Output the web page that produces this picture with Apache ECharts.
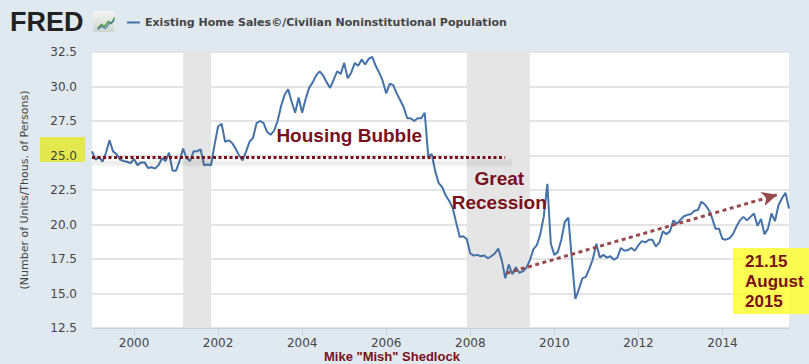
<!DOCTYPE html>
<html>
<head>
<meta charset="utf-8">
<script src="https://cdn.jsdelivr.net/npm/echarts@6/dist/echarts.min.js"></script>
<style>html,body{margin:0;padding:0;background:#E1E9F0;}#c{width:809px;height:364px;}</style>
</head>
<body>
<div id="c"></div>
<script>
// ---- data (monthly, Jan 1999 .. Aug 2015) ----
var startYear = 1999;
var seriesName = 'Existing Home Sales\u00a9/Civilian Noninstitutional Population';
var values = [
  25.3, 24.7, 24.9, 24.55, 25.2, 26.1, 25.3, 25.1, 24.7, 24.6, 24.55, 24.45,
  24.75, 24.3, 24.5, 24.5, 24.1, 24.15, 24.05, 24.3, 24.8, 24.6, 25.2, 23.9,
  23.9, 24.6, 25.5, 24.8, 24.6, 25.3, 25.3, 25.45, 24.3, 24.35, 24.3, 25.8,
  27.1, 27.3, 26.0, 26.1, 25.9, 25.5, 25.0, 24.65, 25.3, 26.0, 26.3, 27.35,
  27.5, 27.35, 26.7, 26.5, 26.8, 27.5, 28.6, 29.4, 29.8, 28.9, 28.1, 29.2,
  28.1, 29.1, 29.9, 30.3, 30.8, 31.1, 30.8, 30.3, 29.9, 30.5, 31.1, 30.9,
  31.7, 30.6, 31.0, 31.7, 31.5, 31.95, 31.6, 32.0, 32.15, 31.5, 31.0, 30.4,
  29.5, 30.2, 30.1, 29.5, 29.0, 28.5, 27.7, 27.7, 27.5, 27.7, 27.7, 28.1,
  24.95, 25.1, 23.85, 23.0, 22.7, 22.1, 21.7, 21.2, 20.1, 19.1, 19.15, 18.95,
  17.9, 17.75, 17.8, 17.7, 17.75, 17.55, 17.7, 17.9, 18.25, 17.4, 16.1, 17.1,
  16.4, 16.9, 16.5, 16.6, 16.85, 17.4, 18.2, 18.5, 19.3, 20.6, 22.95, 18.6,
  17.8, 18.0, 18.9, 20.2, 20.5, 17.5, 14.6, 15.3, 16.1, 16.2, 16.8, 17.5,
  18.6, 17.6, 17.8, 17.6, 17.7, 17.45, 17.6, 18.3, 18.1, 18.15, 18.3, 18.1,
  18.5, 18.8, 18.7, 18.9, 18.9, 18.4, 18.7, 19.5, 19.3, 19.5, 20.3, 20.05,
  20.35, 20.6, 20.7, 20.75, 21.0, 21.05, 21.65, 21.45, 21.1, 20.5, 19.7, 19.7,
  18.95, 18.9, 19.0, 19.3, 19.85, 20.3, 20.55, 20.3, 20.55, 20.8, 19.9, 20.4,
  19.3, 19.7, 20.8, 20.25, 21.4, 21.9, 22.3, 21.15
];
var xTickLabels = [2000, 2002, 2004, 2006, 2008, 2010, 2012, 2014];
var yMin = 12.5, yMax = 32.5, yStep = 2.5;
var recessions = [[2001 + 2/12, 2001 + 10/12], [2007 + 11/12, 2009 + 5/12]];
var bubbleLevel = [[1999.0, 24.85], [2008.83, 24.85]];
var bubbleShadow = [[1999.0, 24.5], [2009.0, 24.5]];
var trendArrow = [[2008.86, 16.47], [2015.3, 22.15]];
var bubbleLabel = {x: 2005.12, y: 26.45, text: 'Housing Bubble'};
var recessionLabel = {x: 2008.69, y: 22.45, text: 'Great\nRecession'};
var lastLabel = '21.15\nAugust\n2015';
var footer = 'Mike "Mish" Shedlock';

var points = values.map(function (v, i) { return [startYear + i / 12, v]; });
var xMax = startYear + (values.length - 1) / 12;
var red = '#7a1019';

var chart = echarts.init(document.getElementById('c'), null, {renderer: 'svg'});
chart.setOption({
  backgroundColor: '#E1E9F0',
  animation: false,
  grid: {left: 92, right: 20, top: 52, bottom: 36, show: true, backgroundColor: '#ffffff', borderWidth: 0},
  legend: {
    left: 122, top: 12, icon: 'rect', itemWidth: 13, itemHeight: 2, itemGap: 6,
    textStyle: {fontFamily: 'DejaVu Sans', fontWeight: 'bold', fontSize: 11, color: '#444'},
    data: [seriesName]
  },
  xAxis: {
    type: 'value', min: startYear, max: xMax,
    axisLine: {show: true, lineStyle: {color: '#c3d0dd', width: 1}},
    axisTick: {show: true, customValues: xTickLabels, length: 8, lineStyle: {color: '#c3d0dd'}},
    axisLabel: {customValues: xTickLabels, formatter: function (v) { return String(v); },
      fontFamily: 'DejaVu Sans', fontSize: 12, color: '#444', margin: 9},
    splitLine: {show: false}
  },
  yAxis: {
    type: 'value', min: yMin, max: yMax, interval: yStep,
    name: '(Number of Units/Thous. of Persons)', nameLocation: 'middle', nameGap: 62,
    nameTextStyle: {fontFamily: 'DejaVu Sans', fontSize: 11, color: '#444'},
    axisLine: {show: false}, axisTick: {show: false},
    axisLabel: {formatter: function (v) { return v.toFixed(1); }, fontFamily: 'DejaVu Sans', fontSize: 12, color: '#444', margin: 15},
    splitLine: {lineStyle: {color: '#e4e4e4', width: 2}}
  },
  series: [
    {
      name: 'recessions', type: 'line', data: [], silent: true, z: 1,
      markArea: {silent: true, itemStyle: {color: '#e5e5e5'},
        data: recessions.map(function (r) { return [{xAxis: r[0]}, {xAxis: r[1]}]; })}
    },
    {
      name: 'bubbleShadow', type: 'line', data: [], silent: true, z: 2,
      markLine: {
        silent: true, animation: false, label: {show: false}, symbol: 'none',
        data: [
          [{coord: bubbleShadow[0], lineStyle: {color: 'rgba(0,0,0,0.03)', width: 8, type: 'solid'}}, {coord: bubbleShadow[1]}],
          [{coord: bubbleShadow[0], lineStyle: {color: 'rgba(0,0,0,0.035)', width: 4, type: 'solid'}}, {coord: bubbleShadow[1]}]
        ]
      }
    },
    {
      name: seriesName, type: 'line', data: points, showSymbol: false, z: 3,
      lineStyle: {color: '#4572a7', width: 2}, itemStyle: {color: '#4572a7'}
    },
    {
      name: 'bubbleLine', type: 'line', data: [], silent: true, z: 4,
      markLine: {
        silent: true, animation: false, label: {show: false}, symbol: 'none',
        lineStyle: {color: red, width: 3, type: [3, 2.5]},
        data: [[{coord: bubbleLevel[0]}, {coord: bubbleLevel[1]}]]
      }
    },
    {
      name: 'annotations', type: 'line', data: [], silent: true, z: 4,
      markLine: {
        silent: true, animation: false, label: {show: false},
        symbol: ['none', 'arrow'], symbolSize: [11, 15],
        lineStyle: {color: '#98494c', width: 3, type: [4, 3.5]},
        data: [[{coord: trendArrow[0]}, {coord: trendArrow[1]}]]
      },
      markPoint: {
        silent: true, symbolSize: 0,
        label: {show: true, position: 'inside', fontFamily: 'Liberation Sans, Arial', fontWeight: 'bold', fontSize: 19, color: red, lineHeight: 24},
        data: [
          {coord: [bubbleLabel.x, bubbleLabel.y], value: 0, label: {formatter: bubbleLabel.text}},
          {coord: [recessionLabel.x, recessionLabel.y], value: 0, label: {formatter: recessionLabel.text}}
        ]
      }
    }
  ],
  graphic: [
    {type: 'rect', left: 40, top: 137, z: -10, shape: {width: 45, height: 25}, style: {fill: '#e3e84e'}},
    {type: 'text', left: 10, top: 8, z: 10, style: {text: 'FRED', fontFamily: 'Liberation Sans, Arial', fontWeight: 'bold', fontSize: 27, fill: '#222'}},
    {type: 'rect', left: 93, top: 11, z: 10, shape: {width: 21, height: 21, r: 2},
      style: {fill: new echarts.graphic.LinearGradient(0, 0, 0, 1, [{offset: 0, color: '#f4f4f4'}, {offset: 1, color: '#cfd6cf'}])}},
    {type: 'polyline', left: 95, top: 15, z: 11, shape: {points: [[0, 12], [4, 8], [7, 10], [11, 5], [14, 7], [17, 1]]}, style: {stroke: '#4a9b3c', lineWidth: 1.5, fill: null}},
    {type: 'polyline', left: 95, top: 18, z: 11, shape: {points: [[0, 12], [4, 9], [8, 11], [12, 6], [17, 3]]}, style: {stroke: '#4c78b8', lineWidth: 1.2, fill: null}},
    {type: 'rect', left: 733, top: 248, z: 20, shape: {width: 76, height: 66}, style: {fill: 'rgba(255,255,40,0.8)'}},
    {type: 'text', left: 745, top: 251, z: 21, style: {text: lastLabel, fontFamily: 'Liberation Sans, Arial', fontWeight: 'bold', fontSize: 17, lineHeight: 20, fill: red}},
    {type: 'text', left: 324, top: 350, z: 21, style: {text: footer, fontFamily: 'Liberation Sans, Arial', fontWeight: 'bold', fontSize: 13, fill: red}}
  ]
});
</script>
</body>
</html>
